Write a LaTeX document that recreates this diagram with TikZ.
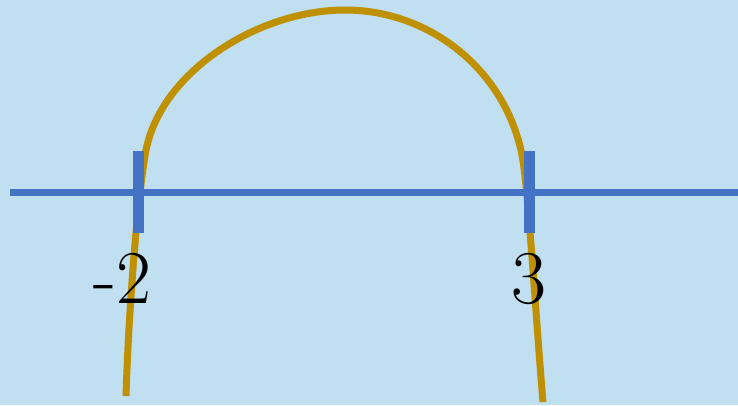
\documentclass[tikz,border=0pt]{standalone}
\definecolor{bgblue}{RGB}{192,223,240}
\definecolor{axisblue}{RGB}{68,114,196}
\definecolor{curvegold}{RGB}{191,144,0}
\begin{document}
\begin{tikzpicture}[x=1pt,y=-1pt,
  axis/.style={draw=axisblue,line width=7pt},
  tickmark/.style={draw=axisblue,line width=11pt},
  graph/.style={draw=curvegold,line width=7pt},
  lbl/.style={anchor=base,inner sep=0pt,font=\fontsize{76}{80}\selectfont}]
\fill[bgblue] (0,0) rectangle (738,405);
\useasboundingbox (0,0) rectangle (738,405);
\draw[graph] (126,396) .. controls (129,300) and (138.5,190) .. (146,150)
  .. controls (162,70) and (260,10) .. (345,10)
  .. controls (430,10) and (505,70) .. (522,155)
  .. controls (528,185) and (536,320) .. (543,402);
\coordinate (axL) at (10,192);
\coordinate (axR) at (738,192);
\coordinate (t1a) at (138.5,151);
\coordinate (t1b) at (138.5,233);
\coordinate (t2a) at (529.5,151);
\coordinate (t2b) at (529.5,233);
\draw[axis] (axL) -- (axR);
\draw[tickmark] (t1a) -- (t1b);
\draw[tickmark] (t2a) -- (t2b);
\node[lbl] (lm2) at (122,303) {-2};
\node[lbl] (l3) at (529,303) {3};
\end{tikzpicture}
\end{document}
